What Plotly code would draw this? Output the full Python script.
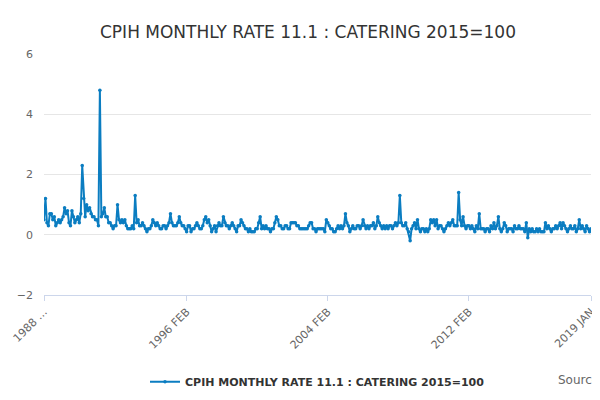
import plotly.graph_objects as go
import pandas as pd

dates = pd.date_range("1988-01-01", "2019-01-01", freq="MS")
y1988 = [0.5, 1.2, 0.4, 0.3, 0.7, 0.7, 0.5, 0.6, 0.3, 0.4, 0.5, 0.4]
y1989 = [0.5, 0.6, 0.9, 0.7, 0.8, 0.4, 0.3, 0.8, 0.6, 0.4, 0.5, 0.6]
y1990 = [0.4, 0.7, 2.3, 1.2, 0.6, 1.0, 0.8, 0.9, 0.7, 0.6, 0.6, 0.5]
y1991 = [0.5, 0.3, 4.8, 0.6, 0.7, 0.9, 0.6, 0.6, 0.4, 0.4, 0.3, 0.2]
y1992 = [0.3, 0.3, 1.0, 0.5, 0.4, 0.5, 0.4, 0.5, 0.3, 0.2, 0.2, 0.2]
y1993 = [0.3, 0.2, 1.3, 0.4, 0.5, 0.3, 0.3, 0.4, 0.3, 0.2, 0.1, 0.2]
y1994 = [0.2, 0.3, 0.5, 0.4, 0.3, 0.4, 0.3, 0.2, 0.2, 0.3, 0.3, 0.2]
y1995 = [0.3, 0.4, 0.7, 0.4, 0.3, 0.3, 0.3, 0.4, 0.6, 0.4, 0.3, 0.3]
y1996 = [0.2, 0.1, 0.3, 0.3, 0.1, 0.2, 0.2, 0.3, 0.4, 0.3, 0.2, 0.2]
y1997 = [0.3, 0.5, 0.6, 0.4, 0.5, 0.3, 0.1, 0.2, 0.3, 0.1, 0.3, 0.4]
y1998 = [0.3, 0.3, 0.6, 0.4, 0.3, 0.3, 0.2, 0.3, 0.4, 0.3, 0.2, 0.1]
y1999 = [0.3, 0.3, 0.5, 0.4, 0.3, 0.2, 0.2, 0.1, 0.2, 0.1, 0.1, 0.1]
y2000 = [0.2, 0.2, 0.4, 0.6, 0.2, 0.3, 0.2, 0.3, 0.2, 0.2, 0.1, 0.2]
y2001 = [0.2, 0.4, 0.6, 0.5, 0.3, 0.3, 0.2, 0.2, 0.3, 0.3, 0.2, 0.2]
y2002 = [0.4, 0.4, 0.4, 0.4, 0.3, 0.3, 0.2, 0.2, 0.2, 0.2, 0.2, 0.2]
y2003 = [0.3, 0.4, 0.4, 0.2, 0.2, 0.1, 0.2, 0.2, 0.2, 0.2, 0.2, 0.1]
y2004 = [0.5, 0.4, 0.3, 0.2, 0.2, 0.1, 0.1, 0.2, 0.3, 0.2, 0.3, 0.2]
y2005 = [0.3, 0.7, 0.4, 0.3, 0.1, 0.2, 0.3, 0.2, 0.2, 0.3, 0.3, 0.2]
y2006 = [0.3, 0.5, 0.3, 0.2, 0.3, 0.2, 0.3, 0.3, 0.4, 0.2, 0.3, 0.6]
y2007 = [0.4, 0.3, 0.2, 0.3, 0.2, 0.3, 0.2, 0.3, 0.3, 0.2, 0.3, 0.4]
y2008 = [0.3, 0.4, 1.3, 0.4, 0.3, 0.3, 0.4, 0.2, 0.1, -0.2, 0.2, 0.3]
y2009 = [0.4, 0.2, 0.5, 0.2, 0.1, 0.2, 0.2, 0.1, 0.2, 0.1, 0.2, 0.5]
y2010 = [0.4, 0.5, 0.3, 0.5, 0.2, 0.3, 0.3, 0.2, 0.1, 0.2, 0.3, 0.4]
y2011 = [0.3, 0.4, 0.5, 0.3, 0.3, 0.3, 1.4, 0.5, 0.3, 0.6, 0.3, 0.2]
y2012 = [0.3, 0.3, 0.2, 0.3, 0.2, 0.1, 0.3, 0.2, 0.7, 0.2, 0.2, 0.2]
y2013 = [0.1, 0.2, 0.2, 0.1, 0.3, 0.2, 0.4, 0.2, 0.3, 0.6, 0.2, 0.1]
y2014 = [0.2, 0.4, 0.3, 0.1, 0.2, 0.2, 0.2, 0.1, 0.3, 0.2, 0.2, 0.3]
y2015 = [0.2, 0.2, 0.2, 0.1, 0.4, -0.1, 0.2, 0.1, 0.2, 0.1, 0.1, 0.2]
y2016 = [0.1, 0.2, 0.1, 0.1, 0.1, 0.4, 0.2, 0.3, 0.2, 0.1, 0.2, 0.2]
y2017 = [0.3, 0.2, 0.3, 0.4, 0.2, 0.4, 0.3, 0.2, 0.1, 0.2, 0.3, 0.2]
y2018 = [0.2, 0.3, 0.1, 0.2, 0.5, 0.2, 0.3, 0.2, 0.1, 0.3, 0.2, 0.1]
y2019 = [0.2]
values = (y1988 + y1989 + y1990 + y1991 + y1992 + y1993 + y1994 + y1995 + y1996 + y1997
          + y1998 + y1999 + y2000 + y2001 + y2002 + y2003 + y2004 + y2005 + y2006 + y2007
          + y2008 + y2009 + y2010 + y2011 + y2012 + y2013 + y2014 + y2015 + y2016 + y2017
          + y2018 + y2019)
labels = [d.strftime("%Y %b").upper() for d in dates]
tick_vals = ["1988 JAN", "1996 FEB", "2004 FEB", "2012 FEB", "2019 JAN"]
tick_text = ["1988 …", "1996 FEB", "2004 FEB", "2012 FEB", "2019 JAN"]

fig = go.Figure(go.Scatter(
    x=labels, y=values, mode="lines+markers",
    name="<b>CPIH MONTHLY RATE 11.1 : CATERING 2015=100</b>",
    line=dict(color="#0b7dc1", width=2), marker=dict(size=3.5, color="#0b7dc1")))
fig.update_layout(
    width=600, height=400, plot_bgcolor="white", paper_bgcolor="white",
    font=dict(family="DejaVu Sans", color="#333"),
    title=dict(text="CPIH MONTHLY RATE 11.1 : CATERING 2015=100", x=0.5, y=0.955,
               font=dict(size=17, color="#333")),
    margin=dict(l=36, r=17, t=46, b=107),
    showlegend=True,
    legend=dict(orientation="h", x=0.5, xanchor="center", y=-0.3, font=dict(size=11, color="#333")),
    xaxis=dict(type="category", tickmode="array", tickvals=tick_vals, ticktext=tick_text,
               range=[0, len(values) - 1], automargin=False,
               tickangle=-45, showgrid=False, showline=True, linecolor="#ccd6eb",
               ticks="outside", tickcolor="#ccd6eb", tickfont=dict(size=11, color="#666")),
    yaxis=dict(range=[-2, 6], dtick=2, gridcolor="#e6e6e6", zeroline=False, automargin=False,
               ticklabelstandoff=10, tickfont=dict(size=11, color="#666")),
)
fig.add_annotation(text="Source:", xref="paper", yref="paper", x=1.025, y=-0.39,
                   xanchor="right", showarrow=False, font=dict(size=12, color="#666"))
fig.write_html("out.html")
